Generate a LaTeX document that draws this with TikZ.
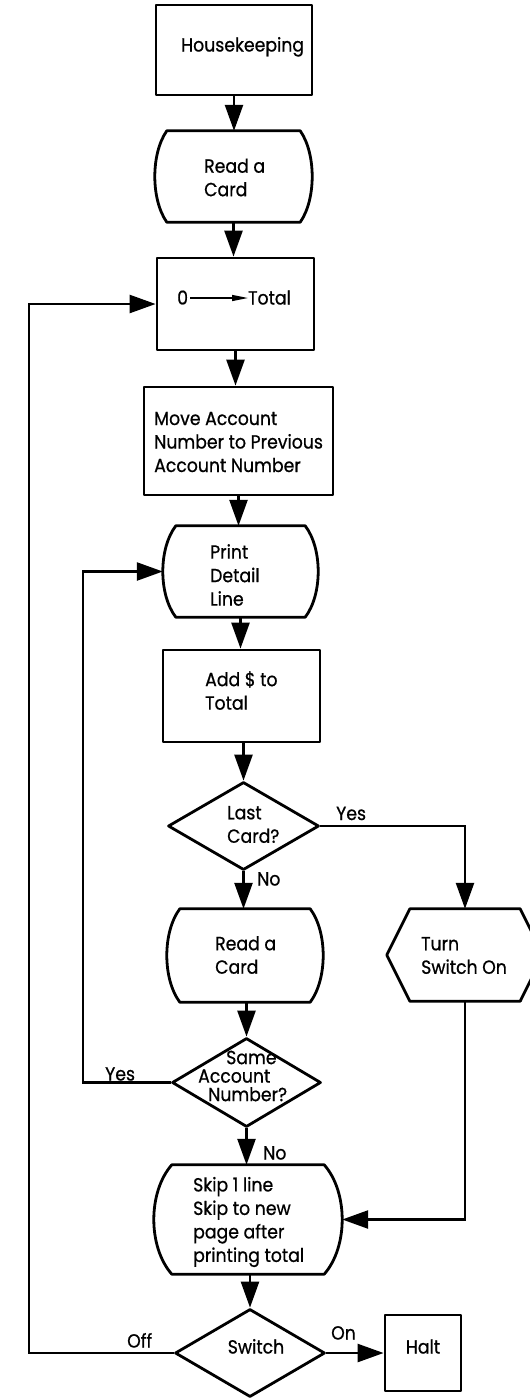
\documentclass[tikz,border=0pt]{standalone}
\usepackage{fontspec}
\setmainfont{Poppins}[FakeStretch=0.91, FakeBold=0.7]
\usetikzlibrary{arrows.meta,calc,shapes.geometric}

\tikzset{
  shapeline/.style={line width=2.8pt, line join=round},
  box/.style={draw, shapeline, rectangle, inner sep=0pt},
  frame/.style={draw=none, rectangle, inner sep=0pt},
  decision/.style={draw, shapeline, diamond, inner sep=0pt},
  txt/.style={inner sep=0pt, anchor=west, align=left, font=\fontsize{19}{23.5}\selectfont},
  word/.style={inner sep=0pt, anchor=base west, font=\fontsize{19}{23.5}\selectfont},
  flow/.style={line width=2.5pt, -{Triangle[length=26pt,width=18pt]}},
}

% card-style outline: flat top and bottom, bulging sides
\newcommand\cardoutline[2]{%
  \draw[shapeline]
    ($(#1.north west)+(#2,0)$) -- ($(#1.north east)+(-#2,0)$)
    .. controls ($(#1.north east)!0.25!(#1.south east)+(#2/3,0)$)
            and ($(#1.north east)!0.75!(#1.south east)+(#2/3,0)$)
    .. ($(#1.south east)+(-#2,0)$)
    -- ($(#1.south west)+(#2,0)$)
    .. controls ($(#1.south west)!0.25!(#1.north west)+(-#2/3,0)$)
            and ($(#1.south west)!0.75!(#1.north west)+(-#2/3,0)$)
    .. cycle;}

\begin{document}
\begin{tikzpicture}[x=1pt, y=-1pt]
\useasboundingbox[fill=white] (0,0) rectangle (530,1398);
\clip (0,0) rectangle (530,1398);

% guide positions of the two loop-back lines
\coordinate (outerx) at (29,0);
\coordinate (innerx) at (83,0);

% --- main column ---
\node[box, minimum width=156pt, minimum height=90pt] (hk) at (234,50) {};
\node[word] (hk-t) at (181,51.5) {Housekeeping};

\node[frame, minimum width=157pt, minimum height=91pt] (rd1) at (233.5,176.5) {};
\cardoutline{rd1}{12}
\node[txt] (rd1-t) at (204,177.5) {Read a\\Card};

\node[box, minimum width=157pt, minimum height=92pt] (zt) at (235.5,304) {};
\node[word] (z0) at (177,304.5) {0};
\node[word] (ztot) at (248,304.5) {Total};
\draw[line width=1.4pt, -{Triangle[length=16pt,width=6pt]}, shorten <=2pt]
  (z0.east |- 0,298) -- (ztot.west |- 0,298);

\node[box, minimum width=189pt, minimum height=108pt] (mv) at (238.5,441) {};
\node[txt] (mv-t) at (154,442) {Move Account\\Number to Previous\\Account Number};

\node[frame, minimum width=155pt, minimum height=91pt] (pr) at (240.5,571.5) {};
\cardoutline{pr}{13}
\node[txt] (pr-t) at (210,575) {Print\\Detail\\Line};

\node[box, minimum width=157pt, minimum height=92pt] (ad) at (241.5,696) {};
\node[txt] (ad-t) at (205,690.5) {Add \$ to\\Total};

\node[decision, minimum width=151pt, minimum height=88pt] (lc) at (243.5,826) {};
\node[txt] (lc-t) at (227,824.5) {Last\\Card?};

\node[frame, minimum width=156pt, minimum height=93pt] (rd2) at (245,955.5) {};
\cardoutline{rd2}{13}
\node[txt] (rd2-t) at (215,955) {Read a\\Card};

\node[decision, minimum width=149pt, minimum height=89pt] (sa) at (246.5,1082.5) {};
\node[txt, font=\fontsize{19}{18.5}\selectfont] (sa-t) at (198,1076)
  {\hspace*{28pt}Same\\Account\\\hspace*{10pt}Number?};

\node[frame, minimum width=188pt, minimum height=109pt] (sk) at (248,1219.5) {};
\cardoutline{sk}{18}
\node[txt] (sk-t) at (193,1222) {Skip 1 line\\Skip to new\\page after\\printing total};

\node[decision, minimum width=150pt, minimum height=88pt] (sw) at (250,1353) {};
\node[word, anchor=base] (sw-t) at (256,1353.5) {Switch};

% --- side column ---
\node[frame, minimum width=156pt, minimum height=92pt] (ts) at (465,955) {};
\draw[shapeline]
  ($(ts.north west)+(23,0)$) -- ($(ts.north east)+(-23,0)$) -- (ts.east)
  -- ($(ts.south east)+(-23,0)$) -- ($(ts.south west)+(23,0)$) -- (ts.west) -- cycle;
\node[txt] (ts-t) at (421,955.5) {Turn\\Switch On};

\node[box, minimum width=76pt, minimum height=76pt] (ht) at (423,1353) {};
\node[word, anchor=base] (ht-t) at (423,1353.5) {Halt};

% --- flow lines ---
\draw[flow] (hk.south) -- (hk.south |- rd1.north);
\draw[flow] (rd1.south) -- (rd1.south |- zt.north);
\draw[flow] (zt.south) -- (zt.south |- mv.north);
\draw[flow] (mv.south) -- (mv.south |- pr.north);
\draw[flow] (pr.south) -- (pr.south |- ad.north);
\draw[flow] (lc.north |- ad.south) -- (lc.north);
\draw[flow] (lc.south) -- (lc.south |- rd2.north);
\draw[flow] (sa.north |- rd2.south) -- (sa.north);
\draw[flow] (sa.south) -- (sa.south |- sk.north);
\draw[flow] (sw.north |- sk.south) -- (sw.north);

\draw[flow] (lc.east) -| (ts.north);
\draw[flow] (ts.south) |- (sk.east);
\draw[flow] (sa.west) -- (sa.west -| innerx) |- (pr.west);
\draw[flow] (sw.west) -- (sw.west -| outerx) |- (zt.west);
\draw[flow] (sw.east) -- (ht.west);

% --- branch labels ---
\node[word] (lc-yes) at (336,820) {Yes};
\node[word] (lc-no) at (257,885.5) {No};
\node[word] (sa-yes) at (105,1080.5) {Yes};
\node[word] (sa-no) at (263,1159.5) {No};
\node[word] (sw-off) at (127,1347.5) {Off};
\node[word] (sw-on) at (331,1339.5) {On};
\end{tikzpicture}
\end{document}
